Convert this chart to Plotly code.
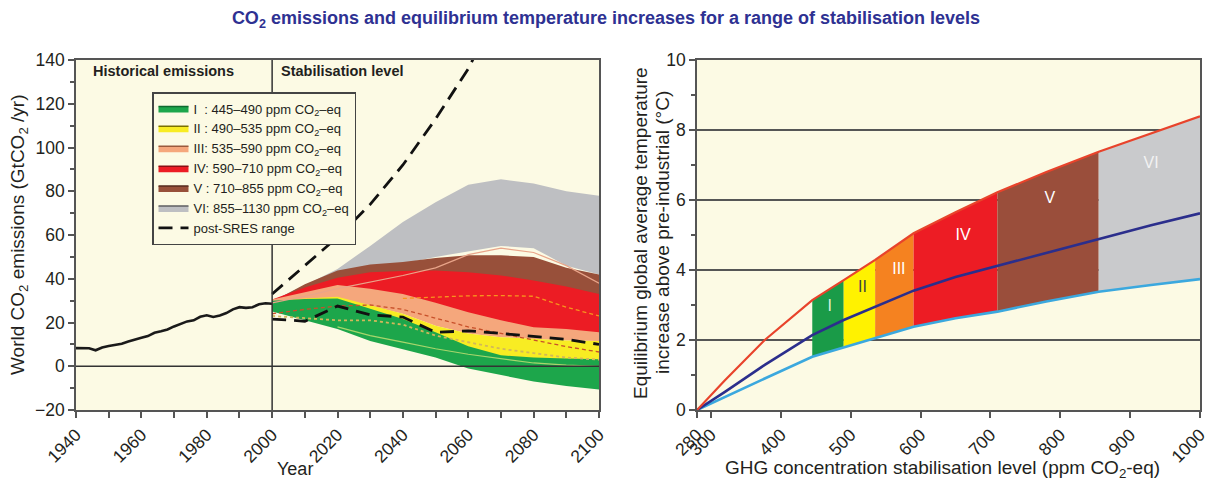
import plotly.graph_objects as go

W, H = 1212, 483
SANS = "Liberation Sans, Arial, sans-serif"
CREAM = "#FCFAE4"
AXC = "#555555"

# ---------------- Left panel data ----------------
hist_years = list(range(1940, 2001, 2))
hist_emissions = [8.3, 8.4, 8.2, 7.3, 8.6, 9.3, 9.9, 10.3, 11.3, 12.0, 13.0, 13.8, 15.3, 16.0, 16.8,
                  18.2, 19.5, 20.5, 21.0, 22.6, 23.3, 22.5, 23.2, 24.3, 26.0, 27.0, 26.7, 27.0, 28.3,
                  28.8, 28.6]

sres_high_years = [2000, 2010, 2020, 2030, 2040, 2050, 2060, 2062]
sres_high = [33, 46, 59, 74, 92, 113, 136, 142]
sres_low_years = [2000, 2005, 2010, 2020, 2030, 2040, 2050, 2060, 2070, 2080, 2090, 2100]
sres_low = [21.5, 21.2, 20.5, 27.5, 23.5, 22.5, 15.5, 16.2, 15.0, 13.8, 12.3, 10.0]

band_years = list(range(2000, 2101, 10))
VI_hi = [30, 37, 44.5, 55, 66, 75, 83, 85.5, 83.5, 80, 78]
VI_lo = [29, 34, 42, 45, 47, 50, 52.5, 55, 54, 46, 42]
V_hi = [29.5, 37.5, 43.8, 46.5, 47.7, 49.5, 50.7, 50.7, 50, 45, 42]
V_lo = [28, 33, 38, 40, 41, 41, 40, 38.5, 36, 33, 30]
IV_hi = [30.5, 36, 40.5, 43, 43.5, 43.8, 43, 41.5, 39.2, 36.5, 33]
IV_lo = [28, 31, 34, 33, 31, 27, 23, 19.5, 16.5, 15.5, 14]
III_hi = [30.5, 33.8, 37.2, 35.4, 33, 29, 24.7, 21, 17.8, 17, 15.5]
III_lo = [26, 28, 30, 27.5, 24, 18.5, 15, 13.3, 12.5, 11.8, 11.5]
II_hi = [29.5, 31, 31.8, 28, 24, 18.5, 15, 13.3, 12.5, 11.8, 11.5]
II_lo = [26, 25, 24, 20, 15, 10, 6, 3, 2, 1.5, 1]
I_hi = [30, 30.8, 31, 26.2, 21.6, 15.5, 9.2, 5, 4, 3.5, 3.2]
I_lo = [25, 21, 17, 11.6, 7.8, 4, -1, -4, -7, -9, -10.6]

V_median = [29, 32, 35.5, 38.5, 41.5, 45, 51, 54, 52, 46, 38]
IV_median = [None, None, None, None, 31, 31.5, 32.2, 32.3, 32, 27, 23]
III_median = [24, 26, 27.5, 28, 26, 22, 18, 15, 12, 9, 6.5]
II_median = [23, 22, 21, 21, 19, 14, 11, 8, 6, 4, 3]
I_median = [None, None, 18, 14, 11, 8, 5.5, 3.5, 1.5, 0.5, 0]

categories = ["I", "II", "III", "IV", "V", "VI"]
cat_ranges = ["445–490", "490–535", "535–590", "590–710", "710–855", "855–1130"]
cat_pad = ["I\u00a0\u00a0: ", "II\u00a0: ", "III: ", "IV: ", "V\u00a0: ", "VI: "]
left_colors = ["#1DA64B", "#F8EC23", "#F5A77C", "#EC1C24", "#98503A", "#BEBFC2"]
legend_edges = ["#0E6A2E", "#7A7000", "#9A5A3C", "#8A0E12", "#55291C", "#5E5E60"]
right_colors = ["#1A9B48", "#FFF200", "#F58220", "#ED1C24", "#9A4E3B", "#C9CACC"]
label_colors = ["#DDEFD8", "#444444", "#FFFFFF", "#FFFFFF", "#FFFFFF", "#F2F2F2"]

# ---------------- Right panel data ----------------
ghg_ppm = [280, 320, 377, 445, 490, 535, 590, 650, 710, 780, 855, 930, 1000]
temp_high = [0, 0.85, 2.0, 3.14, 3.71, 4.29, 5.05, 5.65, 6.22, 6.8, 7.38, 7.9, 8.39]
temp_best = [0, 0.52, 1.29, 2.14, 2.57, 2.95, 3.41, 3.8, 4.12, 4.5, 4.89, 5.28, 5.62]
temp_low = [0, 0.38, 0.9, 1.52, 1.78, 2.05, 2.38, 2.62, 2.81, 3.1, 3.38, 3.57, 3.74]
band_edges = [445, 490, 535, 590, 710, 855, 1000]
label_ppm = [470, 517, 569, 661, 785, 930]
label_temp = [2.95, 3.48, 4.0, 4.98, 6.03, 7.03]

fig = go.Figure()

# legend entries (no data drawn)
for i, c in enumerate(categories):
    fig.add_trace(go.Scatter(x=[None], y=[None], mode="lines", fill="toself",
                             fillcolor=left_colors[i], line=dict(color=legend_edges[i], width=1.5),
                             name=f"{cat_pad[i]}{cat_ranges[i]} ppm CO<sub>2</sub>–eq",
                             showlegend=True, hoverinfo="skip"))

# left bands, back to front
bands = {"VI": (VI_lo, VI_hi), "V": (V_lo, V_hi), "IV": (IV_lo, IV_hi),
         "III": (III_lo, III_hi), "II": (II_lo, II_hi), "I": (I_lo, I_hi)}
for name in ["VI", "V", "IV", "III", "II", "I"]:
    lo, hi = bands[name]
    i = categories.index(name)
    fig.add_trace(go.Scatter(x=band_years + band_years[::-1], y=hi + lo[::-1],
                             fill="toself", fillcolor=left_colors[i], mode="lines",
                             line=dict(width=0, color=left_colors[i]), showlegend=False,
                             hoverinfo="skip"))

# median lines
fig.add_trace(go.Scatter(x=band_years, y=V_median, mode="lines", line=dict(color="#E9A58A", width=1.2),
                         showlegend=False))
fig.add_trace(go.Scatter(x=band_years, y=IV_median, mode="lines",
                         line=dict(color="#F7941D", width=1.3, dash="4px,3px"), showlegend=False))
fig.add_trace(go.Scatter(x=band_years, y=III_median, mode="lines",
                         line=dict(color="#C8502A", width=1.3, dash="4px,3px"), showlegend=False))
fig.add_trace(go.Scatter(x=band_years, y=II_median, mode="lines",
                         line=dict(color="#D2B85A", width=1.8, dash="dot"), showlegend=False))
fig.add_trace(go.Scatter(x=band_years, y=I_median, mode="lines",
                         line=dict(color="#A8D66C", width=1.2), showlegend=False))

# historical
fig.add_trace(go.Scatter(x=hist_years, y=hist_emissions, mode="lines",
                         line=dict(color="#1A1A1A", width=2.6), showlegend=False))
# post-SRES range
fig.add_trace(go.Scatter(x=sres_high_years, y=sres_high, mode="lines", name="post-SRES range",
                         line=dict(color="#111111", width=2.8, dash="14px,8px"), showlegend=True))
fig.add_trace(go.Scatter(x=sres_low_years, y=sres_low, mode="lines",
                         line=dict(color="#111111", width=2.8, dash="14px,8px"), showlegend=False))

# ---------------- Right panel ----------------
for i, c in enumerate(categories):
    x0, x1 = band_edges[i], band_edges[i + 1]
    idx = [k for k, p in enumerate(ghg_ppm) if x0 <= p <= x1]
    xs = [ghg_ppm[k] for k in idx]
    fig.add_trace(go.Scatter(x=xs + xs[::-1], y=[temp_high[k] for k in idx] + [temp_low[k] for k in idx][::-1],
                             fill="toself", fillcolor=right_colors[i], mode="lines",
                             line=dict(width=0, color=right_colors[i]), xaxis="x2", yaxis="y2",
                             showlegend=False, hoverinfo="skip"))

fig.add_trace(go.Scatter(x=ghg_ppm, y=temp_low, mode="lines", line=dict(color="#3BA8DE", width=2.6),
                         xaxis="x2", yaxis="y2", showlegend=False))
fig.add_trace(go.Scatter(x=ghg_ppm, y=temp_best, mode="lines", line=dict(color="#2B2E8C", width=2.6),
                         xaxis="x2", yaxis="y2", showlegend=False))
fig.add_trace(go.Scatter(x=ghg_ppm, y=temp_high, mode="lines", line=dict(color="#E8432B", width=2.2),
                         xaxis="x2", yaxis="y2", showlegend=False))
fig.add_trace(go.Scatter(x=label_ppm, y=label_temp, mode="text", text=categories,
                         textfont=dict(family=SANS, size=16, color=label_colors),
                         xaxis="x2", yaxis="y2", showlegend=False, hoverinfo="skip"))

tickfont = dict(family=SANS, size=17.5, color="#231F20")
common = dict(showline=True, mirror=True, linecolor=AXC, linewidth=1.5, ticks="outside",
              ticklen=6, tickwidth=1.5, tickcolor=AXC, tickfont=tickfont, zeroline=False,
              automargin=False)
TITLE_FONT = dict(family=SANS, size=19, color="#231F20")

fig.update_layout(
    width=W, height=H, margin=dict(l=0, r=0, t=0, b=0, autoexpand=False),
    paper_bgcolor="white", plot_bgcolor=CREAM,
    title=dict(text="<b>CO<sub>2</sub> emissions and equilibrium temperature increases for a range of stabilisation levels</b>",
               x=0.5, xanchor="center", y=1 - 18 / H, yanchor="middle", automargin=False,
               font=dict(family=SANS, size=18, color="#2E3192")),
    xaxis=dict(domain=[76 / W, 599 / W], range=[1940, 2100], tickmode="array",
               tickvals=list(range(1940, 2101, 20)), tickangle=-45, showgrid=False,
               minor=dict(dtick=10, tick0=1940, ticks="outside", ticklen=6, tickcolor=AXC, tickwidth=1.5),
               anchor="y", **common),
    yaxis=dict(domain=[1 - 410 / H, 1 - 60 / H], range=[-20, 140], dtick=20, showgrid=False,
               minor=dict(dtick=10, ticks="outside", ticklen=4, tickcolor=AXC, tickwidth=1.5),
               anchor="x", **common),
    xaxis2=dict(domain=[697 / W, 1200 / W], range=[280, 1000], tickmode="array",
                tickvals=[280, 300, 400, 500, 600, 700, 800, 900, 1000], tickangle=-45, showgrid=False,
                anchor="y2", **common),
    yaxis2=dict(domain=[1 - 410 / H, 1 - 60 / H], range=[0, 10], dtick=2, showgrid=True,
                gridcolor="#555555", gridwidth=1.5,
                minor=dict(dtick=1, ticks="outside", ticklen=4, tickcolor=AXC, tickwidth=1.5, showgrid=False),
                anchor="x2", **common),
    legend=dict(x=152 / W, y=1 - 92 / H, xanchor="left", yanchor="top", bgcolor=CREAM,
                bordercolor="#444444", borderwidth=1.5, font=dict(family=SANS, size=13, color="#231F20"),
                tracegroupgap=0, itemwidth=30),
    showlegend=True,
    shapes=[
        dict(type="line", xref="x", yref="y", x0=1940, x1=2100, y0=0, y1=0,
             line=dict(color="#333333", width=1.5), layer="above"),
        dict(type="line", xref="x", yref="y", x0=2000, x1=2000, y0=-20, y1=140,
             line=dict(color="#333333", width=1.5), layer="above"),
    ],
    annotations=[
        dict(text="<b>Historical emissions</b>", x=1944.5, y=135, xref="x", yref="y", xanchor="left",
             yanchor="middle", showarrow=False, font=dict(family=SANS, size=14.5, color="#231F20")),
        dict(text="<b>Stabilisation level</b>", x=2002, y=135, xref="x", yref="y", xanchor="left",
             yanchor="middle", showarrow=False, font=dict(family=SANS, size=14.5, color="#231F20")),
        dict(text="World CO<sub>2</sub> emissions (GtCO<sub>2</sub> /yr)", x=19 / W, y=1 - 235 / H,
             xref="paper", yref="paper", textangle=-90, showarrow=False, xanchor="center", yanchor="middle",
             font=TITLE_FONT),
        dict(text="Year", x=295 / W, y=1 - 469 / H, xref="paper", yref="paper", showarrow=False,
             xanchor="center", yanchor="middle", font=dict(family=SANS, size=18, color="#231F20")),
        dict(text="Equilibrium global average temperature", x=640 / W, y=1 - 233 / H,
             xref="paper", yref="paper", textangle=-90, showarrow=False,
             xanchor="center", yanchor="middle", font=TITLE_FONT),
        dict(text="increase above pre-industrial (°C)", x=662 / W, y=1 - 233 / H,
             xref="paper", yref="paper", textangle=-90, showarrow=False,
             xanchor="center", yanchor="middle", font=TITLE_FONT),
        dict(text="GHG concentration stabilisation level (ppm CO<sub>2</sub>-eq)", x=943 / W, y=1 - 469 / H,
             xref="paper", yref="paper", showarrow=False, xanchor="center", yanchor="middle",
             font=TITLE_FONT),
    ],
)

fig.write_html("out.html", post_script="document.body.style.margin='0px';",
               config={"displayModeBar": False})
